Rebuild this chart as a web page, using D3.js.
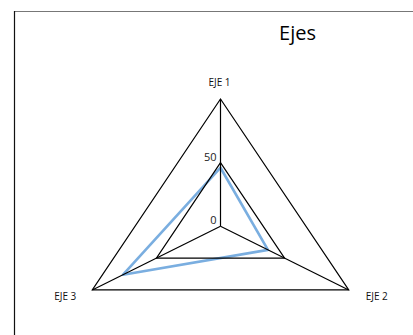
<!DOCTYPE html>
<html><head><meta charset="utf-8">
<script src="https://cdn.jsdelivr.net/npm/d3@7"></script>
<style>html,body{margin:0;padding:0;background:#fff;}svg{display:block;}</style>
</head><body>
<script>
const axes = ["EJE 1", "EJE 2", "EJE 3"];
const values = [46, 37, 76];
const ringTicks = [50, 100];
const tickLabels = [0, 50];
const title = "Ejes";

const W = 413, H = 335;
const cx = 220.5, cy = 226.3, R = 127.3, kx = 1.163;
const font = "'Open Sans', sans-serif";

const svg = d3.select("body").append("svg").attr("width", W).attr("height", H);

// frame
svg.append("line").attr("x1", 14).attr("x2", W).attr("y1", 11.5).attr("y2", 11.5)
  .attr("stroke", "#777").attr("stroke-width", 1.2);
svg.append("line").attr("x1", 14.5).attr("x2", 14.5).attr("y1", 11).attr("y2", H)
  .attr("stroke", "#111").attr("stroke-width", 1.2);

svg.append("text").attr("x", 297.5).attr("y", 39.5).attr("text-anchor", "middle")
  .attr("font-family", font).attr("font-size", 20).attr("fill", "#000").text(title);

const r = d3.scaleLinear().domain([0, 100]).range([0, R]);
const ang = d3.scalePoint().domain(axes).range([0, 2 * Math.PI * (axes.length - 1) / axes.length]);
const px = (a, v) => cx + kx * r(v) * Math.sin(ang(a));
const py = (a, v) => cy - r(v) * Math.cos(ang(a));

const g = svg.append("g");

// series
const line = d3.line().x(d => px(d.a, d.v)).y(d => py(d.a, d.v)).curve(d3.curveLinearClosed);
g.append("path").datum(axes.map((a, i) => ({a, v: values[i]})))
  .attr("d", line).attr("fill", "none").attr("stroke", "#7aaee0")
  .attr("stroke-width", 2.6).attr("stroke-linejoin", "round");

// rings
const ringLine = d3.line().x(d => d[0]).y(d => d[1]).curve(d3.curveLinearClosed);
ringTicks.forEach(t => {
  g.append("path").attr("d", ringLine(axes.map(a => [px(a, t), py(a, t)])))
    .attr("fill", "none").attr("stroke", "#000").attr("stroke-width", 1.2);
});
// spokes
axes.forEach(a => {
  g.append("line").attr("x1", px(a, 0)).attr("y1", py(a, 0))
    .attr("x2", px(a, 100)).attr("y2", py(a, 100))
    .attr("stroke", "#000").attr("stroke-width", 1.2);
});

// tick labels
tickLabels.forEach(t => {
  g.append("text").attr("x", 216.5).attr("y", py(axes[0], t) - 2)
    .attr("text-anchor", "end").attr("font-family", font).attr("font-size", 11)
    .attr("fill", "#222").text(t);
});

// axis labels
const labelOffsets = [[-1, -13], [28, 10], [-27, 10]];
axes.forEach((a, i) => {
  g.append("text").attr("x", px(a, 100) + labelOffsets[i][0]).attr("y", py(a, 100) + labelOffsets[i][1])
    .attr("text-anchor", "middle").attr("font-family", font).attr("font-size", 10)
    .attr("fill", "#111").text(a);
});
</script>
</body></html>
